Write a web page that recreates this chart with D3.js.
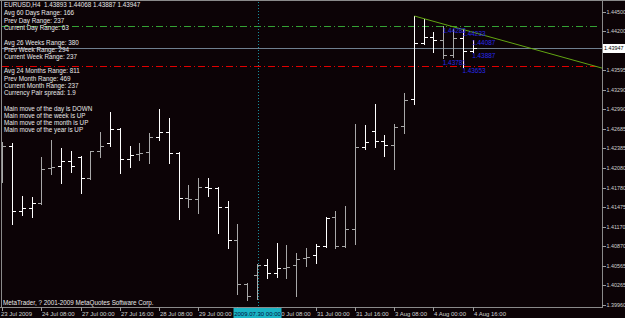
<!DOCTYPE html>
<html lang="en">
<head>
<meta charset="utf-8">
<style type="text/css">
    body { margin: 0; background: #0c0306; }
    svg { display: block; }
    text { font-family: "Liberation Sans", Arial, sans-serif; white-space: pre; }
</style>
</head>
<body>
<svg width="625" height="318"></svg>

<script src="https://d3js.org/d3.v7.min.js"></script>
<script type="text/javascript">

    // EURUSD H4, 23 Jul 16:00 .. 4 Aug 16:00 (bar index 0..48)
    var opens  = [1.42362,1.42424,1.41417,1.41463,1.41541,1.42083,1.42114,1.42191,1.42253,1.41928,
                  1.42346,1.42470,1.42687,1.42222,1.42300,1.42331,1.42563,1.42641,1.42315,1.41618,
                  1.41603,1.41788,1.41773,1.41479,1.40967,1.40285,1.40425,1.40580,1.40456,1.40533,
                  1.40580,1.40688,1.40735,1.40874,1.41324,1.40874,1.41137,1.42408,1.42656,1.42501,
                  1.42439,1.42734,1.43152,1.44020,1.44113,1.44066,1.43834,1.44097,1.43893];
    var highs  = [1.42486,1.42470,1.41649,1.41634,1.42253,1.42517,1.42393,1.42346,1.42269,1.42346,
                  1.42641,1.42951,1.42703,1.42424,1.42470,1.42625,1.42997,1.42858,1.42331,1.41819,
                  1.41928,1.41928,1.41788,1.41572,1.41215,1.40301,1.40595,1.40673,1.40921,1.40890,
                  1.40766,1.40843,1.40906,1.41324,1.41417,1.41494,1.42765,1.42749,1.43075,1.42594,
                  1.42765,1.43245,1.44438,1.44392,1.44190,1.44283,1.44237,1.44233,1.44068];
    var lows   = [1.41866,1.41215,1.41355,1.41324,1.41525,1.41990,1.41850,1.42021,1.41695,1.41913,
                  1.42253,1.42424,1.42005,1.42098,1.42207,1.42160,1.42517,1.42160,1.41293,1.41479,
                  1.41386,1.41649,1.41076,1.40843,1.40131,1.40038,1.40053,1.40378,1.40394,1.40378,
                  1.40100,1.40564,1.40611,1.40859,1.40843,1.40859,1.40906,1.42377,1.42408,1.42269,
                  1.42068,1.42625,1.43075,1.44005,1.43880,1.43781,1.43810,1.43653,1.43887];
    var closes = [1.42424,1.41417,1.41463,1.41541,1.42067,1.42098,1.42191,1.42114,1.41928,1.42346,
                  1.42424,1.42687,1.42222,1.42284,1.42315,1.42563,1.42641,1.42315,1.41618,1.41603,
                  1.41788,1.41773,1.41479,1.40967,1.40285,1.40100,1.40580,1.40456,1.40533,1.40549,
                  1.40673,1.40704,1.40874,1.41309,1.40874,1.41137,1.42408,1.42486,1.42501,1.42439,
                  1.42718,1.43137,1.44020,1.44113,1.44066,1.43834,1.44097,1.43893,1.43947];

    var priceTicks = [1.44500,1.44200,1.43595,1.43290,1.42990,1.42685,1.42385,1.42080,
                      1.41780,1.41475,1.41170,1.40870,1.40565,1.40265,1.39960];

    var timeIdx    = [0,4,8,12,16,20,24,28,32,36,40,44,48];
    var timeLabels = ["23 Jul 2009","24 Jul 08:00","27 Jul 00:00","27 Jul 16:00","28 Jul 08:00",
                      "29 Jul 00:00","29 Jul 16:00","30 Jul 08:00","31 Jul 00:00","31 Jul 16:00",
                      "3 Aug 08:00","4 Aug 00:00","4 Aug 16:00"];
    var cursorIdx = 26, cursorLabel = "2009.07.30 00:00";

    // day high / day low levels and the trend line anchors
    var dayHigh = 1.44290, dayLow = 1.43663;
    var trendIdx = [42, 48], trendPrice = [1.44438, 1.44185];

    // blue high/low price marks
    var markIdx   = [45, 47, 48, 48, 45, 47];
    var markPrice = [1.44283, 1.44233, 1.44087, 1.43887, 1.43781, 1.43653];

    var header = "EURUSD,H4";
    var dayLines   = ["Avg 60 Days Range: 166", "Prev Day Range: 237", "Current Day Range: 63"];
    var weekLines  = ["Avg 26 Weeks Range: 380", "Prev Week Range: 294", "Current Week Range: 237"];
    var monthLines = ["Avg 24 Months Range: 811", "Prev Month Range: 469", "Current Month Range: 237", "Currency Pair spread: 1.9"];
    var moveLines  = ["Main move of the day is DOWN", "Main move of the week is UP", "Main move of the month is UP", "Main move of the year is UP"];

    var svg = d3.select("svg"),
        width = +svg.attr("width"),
        height = +svg.attr("height"),
        plotR = 602, plotB = 307;

    var x = d3.scaleLinear().domain([0, 48]).range([2.6, 473.2]);
    var y = d3.scaleLinear().domain([1.39960, 1.44500]).range([305, 12]);
    var py = function (p) { return Math.round(y(p)) + 0.5; };

    svg.append("rect").attr("width", width).attr("height", height).attr("fill", "#0c0306");

    svg.append("defs").append("clipPath").attr("id", "plot")
        .append("rect").attr("x", 2).attr("y", 2).attr("width", plotR - 2).attr("height", plotB - 2);

    var plot = svg.append("g").attr("clip-path", "url(#plot)");

    // level lines
    plot.append("line").attr("x1", 2).attr("x2", 597).attr("y1", py(dayHigh)).attr("y2", py(dayHigh))
        .attr("stroke", "#34a234").attr("stroke-dasharray", "7,3,1,3").attr("shape-rendering", "crispEdges");
    plot.append("line").attr("x1", 2).attr("x2", 597).attr("y1", py(dayLow)).attr("y2", py(dayLow))
        .attr("stroke", "#e00000").attr("stroke-dasharray", "7,3,1,3").attr("shape-rendering", "crispEdges");
    plot.append("line").attr("x1", 2).attr("x2", plotR).attr("y1", py(closes[48])).attr("y2", py(closes[48]))
        .attr("stroke", "#6f7f8f").attr("shape-rendering", "crispEdges");

    // cursor line
    plot.append("line").attr("x1", Math.round(x(cursorIdx)) + 0.5).attr("x2", Math.round(x(cursorIdx)) + 0.5)
        .attr("y1", 2).attr("y2", plotB).attr("stroke", "#168e9c").attr("stroke-dasharray", "1,2")
        .attr("shape-rendering", "crispEdges");

    // bars
    var bars = d3.range(opens.length).map(function (i) {
        return {i: i, o: opens[i], h: highs[i], l: lows[i], c: closes[i]};
    });

    var bar = plot.selectAll(".bar").data(bars).enter().append("g")
        .attr("class", "bar")
        .attr("shape-rendering", "crispEdges")
        .attr("stroke", function (d) {
            var f = x(d.i) - Math.floor(x(d.i));
            return (f >= 0.5 && f < 0.95) ? "#a8a8a8" : "#ffffff";
        });

    bar.append("line")
        .attr("x1", function (d) { return Math.floor(x(d.i)) + 0.5; })
        .attr("x2", function (d) { return Math.floor(x(d.i)) + 0.5; })
        .attr("y1", function (d) { return py(d.h) - 0.5; })
        .attr("y2", function (d) { return py(d.l) + 0.5; });
    bar.append("line")
        .attr("x1", function (d) { return Math.floor(x(d.i)) - 3; })
        .attr("x2", function (d) { return Math.floor(x(d.i)); })
        .attr("y1", function (d) { return py(d.o); })
        .attr("y2", function (d) { return py(d.o); });
    bar.append("line")
        .attr("x1", function (d) { return Math.floor(x(d.i)) + 1; })
        .attr("x2", function (d) { return Math.floor(x(d.i)) + 4; })
        .attr("y1", function (d) { return py(d.c); })
        .attr("y2", function (d) { return py(d.c); });

    // trend line, extended to the right edge
    var slope = (trendPrice[1] - trendPrice[0]) / (trendIdx[1] - trendIdx[0]);
    var endIdx = x.invert(plotR);
    plot.append("line")
        .attr("x1", x(trendIdx[0])).attr("y1", y(trendPrice[0]))
        .attr("x2", x(endIdx)).attr("y2", y(trendPrice[0] + slope * (endIdx - trendIdx[0])))
        .attr("stroke", "#62a512").attr("stroke-width", 1);

    // blue price marks
    plot.selectAll(".mark").data(markIdx).enter().append("text")
        .attr("class", "mark")
        .attr("x", function (d) { return x(d) - 1; })
        .attr("y", function (d, i) { return y(markPrice[i]) + 6.5; })
        .attr("font-size", "6.4px")
        .attr("fill", "#2828e8")
        .text(function (d, i) { return markPrice[i].toFixed(5); });

    // info text
    var info = svg.append("g").attr("font-size", "6.3px").attr("fill", "#e8e8e8");
    var lines = [header + "  " + [opens[48], highs[48], lows[48], closes[48]].map(function (v) { return v.toFixed(5); }).join(" ")];
    var lineY = [6.5];
    dayLines.forEach(function (t, k) { lines.push(t); lineY.push(15 + k * 7.5); });
    weekLines.forEach(function (t, k) { lines.push(t); lineY.push(44.5 + k * 7.3); });
    monthLines.forEach(function (t, k) { lines.push(t); lineY.push(73.3 + k * 7.3); });
    moveLines.forEach(function (t, k) { lines.push(t); lineY.push(110.5 + k * 7.3); });
    info.selectAll("text").data(lines).enter().append("text")
        .attr("x", 4).attr("y", function (d, i) { return lineY[i]; })
        .text(function (d) { return d; });

    svg.append("text").attr("x", 3).attr("y", 305).attr("font-size", "6.3px").attr("fill", "#e8e8e8")
        .text("MetaTrader, ? 2001-2009 MetaQuotes Software Corp.");

    // frame
    var frame = svg.append("g").attr("stroke", "#8a8a8a").attr("shape-rendering", "crispEdges");
    frame.append("line").attr("x1", 0).attr("x2", width).attr("y1", 0.5).attr("y2", 0.5);
    frame.append("line").attr("x1", 1.5).attr("x2", 1.5).attr("y1", 0).attr("y2", plotB);
    frame.append("line").attr("x1", plotR + 0.5).attr("x2", plotR + 0.5).attr("y1", 0).attr("y2", plotB + 1);
    frame.append("line").attr("x1", 0).attr("x2", plotR).attr("y1", plotB + 0.5).attr("y2", plotB + 0.5);

    // price axis
    var pAxis = svg.append("g");
    pAxis.selectAll("line").data(priceTicks).enter().append("line")
        .attr("x1", plotR).attr("x2", plotR + 4)
        .attr("y1", function (d) { return py(d); }).attr("y2", function (d) { return py(d); })
        .attr("stroke", "#9a9a9a").attr("shape-rendering", "crispEdges");
    pAxis.selectAll("text").data(priceTicks).enter().append("text")
        .attr("x", plotR + 4.5).attr("y", function (d) { return y(d) + 2; })
        .attr("font-size", "5.4px").attr("fill", "#d0d0d0")
        .text(function (d) { return d.toFixed(5); });

    // current price box
    svg.append("rect").attr("x", plotR + 1).attr("y", Math.round(y(closes[48])) - 4)
        .attr("width", 22).attr("height", 9).attr("fill", "#ffffff");
    svg.append("text").attr("x", plotR + 2).attr("y", y(closes[48]) + 2.2)
        .attr("font-size", "5.4px").attr("fill", "#000000")
        .text(closes[48].toFixed(5));

    // time axis
    var tAxis = svg.append("g");
    tAxis.selectAll("line").data(timeIdx).enter().append("line")
        .attr("x1", function (d) { return Math.floor(x(d)) + 0.5; })
        .attr("x2", function (d) { return Math.floor(x(d)) + 0.5; })
        .attr("y1", plotB).attr("y2", plotB + 4)
        .attr("stroke", "#9a9a9a").attr("shape-rendering", "crispEdges");
    tAxis.selectAll("text").data(timeIdx).enter().append("text")
        .attr("x", function (d, i) { return i === 0 ? 1 : Math.floor(x(d)) + 1; })
        .attr("y", 315.5)
        .attr("font-size", "6px").attr("fill", "#d0d0d0")
        .text(function (d, i) { return timeLabels[i]; });

    svg.append("rect").attr("x", x(cursorIdx) - 24).attr("y", 308)
        .attr("width", 48).attr("height", 10).attr("fill", "#1ab4c4");
    svg.append("text").attr("x", x(cursorIdx)).attr("y", 315.5).attr("text-anchor", "middle")
        .attr("font-size", "6px").attr("fill", "#001040")
        .text(cursorLabel);

</script>
</body>
</html>
